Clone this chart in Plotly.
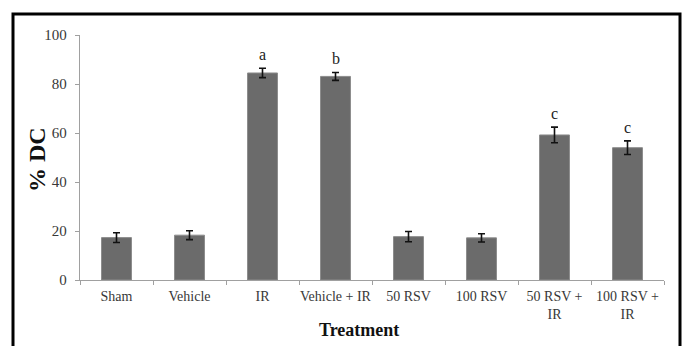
import plotly.graph_objects as go

categories = ["Sham", "Vehicle", "IR", "Vehicle + IR", "50 RSV", "100 RSV", "50 RSV +<br>IR", "100 RSV +<br>IR"]
values = [17.3, 18.3, 84.5, 83.1, 17.7, 17.2, 59.2, 54.0]
errors = [2.0, 1.8, 1.9, 1.6, 2.1, 1.7, 3.2, 2.8]
letters = ["", "", "a", "b", "", "", "c", "c"]
y_ticks = [0, 20, 40, 60, 80, 100]

W, H = 682, 346
L, R, T, B = 80, 18, 35, 66
pw, ph = W - L - R, H - T - B

serif = "Liberation Serif, Times New Roman, serif"

fig = go.Figure()
fig.add_trace(go.Bar(
    x=categories, y=values,
    marker=dict(color="#6b6b6b", line=dict(color="#8c8c8c", width=1)),
    error_y=dict(type="data", array=errors, color="#111111", thickness=1.6, width=3.5),
    width=0.41,
))

for c, v, e, t in zip(categories, values, errors, letters):
    if t:
        fig.add_annotation(x=c, y=v + e, text=t, showarrow=False, yanchor="bottom",
                           yshift=3, font=dict(family=serif, size=16, color="#222222"))

def px_x(p):
    return (p - L) / pw

def px_y(p):
    return (H - B - p) / ph

fig.add_shape(type="rect", xref="paper", yref="paper",
              x0=px_x(13), x1=px_x(680), y0=px_y(360), y1=px_y(14),
              line=dict(color="black", width=3), fillcolor="rgba(0,0,0,0)")

fig.add_annotation(xref="paper", yref="paper", x=px_x(359), y=px_y(330), text="<b>Treatment</b>",
                   xanchor="center", yanchor="middle",
                   showarrow=False, font=dict(family=serif, size=18, color="#111111"))
fig.add_annotation(xref="paper", yref="paper", x=px_x(37), y=px_y(160), text="<b>% DC</b>",
                   xanchor="center", yanchor="middle",
                   textangle=-90, showarrow=False, font=dict(family=serif, size=24, color="#111111"))

fig.update_layout(
    width=W, height=H,
    margin=dict(l=L, r=R, t=T, b=B, autoexpand=False),
    paper_bgcolor="white", plot_bgcolor="white",
    showlegend=False,
    font=dict(family=serif, size=14, color="#383838"),
    xaxis=dict(type="category", showline=True, linecolor="#a0a0a0", linewidth=1.3,
               ticks="outside", tickson="boundaries", ticklen=4, tickcolor="#a0a0a0",
               showgrid=False, zeroline=False, tickangle=0, automargin=False,
               ticklabelstandoff=3, tickfont=dict(size=14, color="#383838")),
    yaxis=dict(range=[0, 100], tickvals=y_ticks, showline=True, linecolor="#a0a0a0", linewidth=1.3,
               ticks="outside", ticklen=4, tickcolor="#a0a0a0", showgrid=False, zeroline=False,
               automargin=False, ticklabelstandoff=5, tickfont=dict(size=15, color="#383838")),
)

fig.write_html("out.html", config={"displayModeBar": False},
               post_script="document.body.style.margin='0';document.body.style.overflow='hidden';")
